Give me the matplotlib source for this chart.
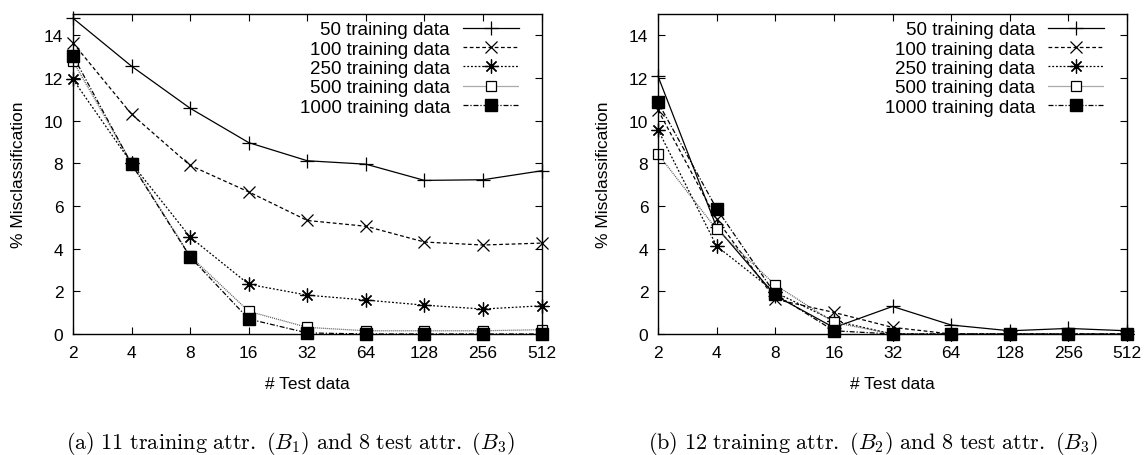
import matplotlib.pyplot as plt

plt.rcParams['font.family'] = ['Liberation Sans', 'DejaVu Sans']
plt.rcParams['mathtext.fontset'] = 'cm'

# x axis: number of test data
test_sizes = [2, 4, 8, 16, 32, 64, 128, 256, 512]
labels = ['50 training data', '100 training data', '250 training data',
          '500 training data', '1000 training data']

# (a) 11 training attr. (B1), 8 test attr. (B3)
a_50 = [14.8, 12.55, 10.58, 8.97, 8.12, 7.96, 7.2, 7.23, 7.65]
a_100 = [13.64, 10.3, 7.9, 6.66, 5.32, 5.05, 4.31, 4.17, 4.26]
a_250 = [11.93, 8.0, 4.54, 2.33, 1.82, 1.59, 1.35, 1.17, 1.32]
a_500 = [12.78, 8.0, 3.65, 1.06, 0.31, 0.15, 0.15, 0.15, 0.2]
a_1000 = [13.04, 7.96, 3.61, 0.7, 0.05, 0.0, 0.0, 0.0, 0.0]

# (b) 12 training attr. (B2), 8 test attr. (B3)
b_50 = [12.08, 5.0, 1.8, 0.3, 1.29, 0.42, 0.15, 0.26, 0.15]
b_100 = [10.5, 5.37, 1.63, 1.01, 0.31, 0.0, 0.0, 0.0, 0.0]
b_250 = [9.57, 4.12, 1.95, 0.62, 0.0, 0.0, 0.0, 0.0, 0.0]
b_500 = [8.43, 4.9, 2.3, 0.54, 0.0, 0.0, 0.0, 0.0, 0.0]
b_1000 = [10.86, 5.87, 1.87, 0.15, 0.0, 0.0, 0.0, 0.0, 0.0]

captions = [r'$\mathrm{(a)\ 11\ training\ attr.\ (}B_1\mathrm{)\ and\ 8\ test\ attr.\ (}B_3\mathrm{)}$',
            r'$\mathrm{(b)\ 12\ training\ attr.\ (}B_2\mathrm{)\ and\ 8\ test\ attr.\ (}B_3\mathrm{)}$']

# estilos tipo gnuplot
styles = [
    dict(color='black', ls='-', marker='+', ms=10, mfc='none', mew=0.9),
    dict(color='black', ls=(0, (3, 2)), marker='x', ms=8, mfc='none', mew=0.9),
    dict(color='black', ls=(0, (1.5, 1.5)), marker=(8, 2, 0), ms=10, mfc='none', mew=0.9),
    dict(color='#555555', ls=(0, (0.8, 0.8)), marker='s', ms=7.5, mfc='white', mec='black', mew=0.9),
    dict(color='black', ls=(0, (4, 1.5, 1, 1.5)), marker='s', ms=8.5, mfc='black', mec='black'),
]

fig = plt.figure(figsize=(11.45, 4.56), dpi=100)
ax_a = fig.add_axes([0.0638, 0.2654, 0.4092, 0.7017])
ax_b = fig.add_axes([0.5747, 0.2654, 0.4096, 0.7017])

for ax, series, cap, cx in [(ax_a, [a_50, a_100, a_250, a_500, a_1000], captions[0], 0.465),
                            (ax_b, [b_50, b_100, b_250, b_500, b_1000], captions[1], 0.458)]:
    for vals, lab, st in zip(series, labels, styles):
        ax.plot(test_sizes, vals, label=lab, lw=0.9, clip_on=False, **st)
    ax.set_xscale('log', base=2)
    ax.set_xlim(2, 512)
    ax.set_ylim(0, 15)
    ax.set_xticks(test_sizes)
    ax.set_xticklabels([str(v) for v in test_sizes])
    ax.minorticks_off()
    ax.set_yticks(range(0, 15, 2))
    ax.tick_params(direction='in', top=True, right=True, labelsize=12.5, length=5)
    ax.tick_params(axis='x', pad=8)
    ax.tick_params(axis='y', pad=7)
    ax.set_xlabel('# Test data', fontsize=12.5)
    ax.set_ylabel('% Misclassification', fontsize=12.5)
    ax.xaxis.set_label_coords(0.5, -0.13)
    ax.yaxis.set_label_coords(-0.10, 0.5)
    for s in ax.spines.values():
        s.set_linewidth(1.0)
    ax.legend(loc='upper right', markerfirst=False, frameon=False, fontsize=13.5,
              handlelength=3.0, handletextpad=0.68, labelspacing=0.12,
              borderaxespad=0, borderpad=0, bbox_to_anchor=(0.9516, 0.978))
    ax.text(cx, -0.34, cap, transform=ax.transAxes, ha='center', va='center', fontsize=16)

fig.savefig('out.png', dpi=100)
